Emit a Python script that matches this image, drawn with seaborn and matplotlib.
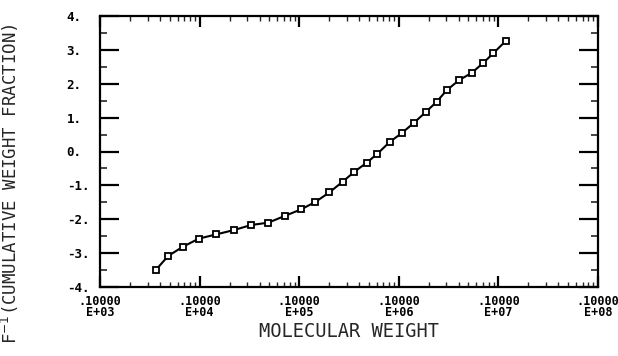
import matplotlib
matplotlib.use("Agg")
import matplotlib.pyplot as plt
import seaborn as sns
import numpy as np
import pandas as pd
from matplotlib.ticker import LogLocator, FixedLocator, NullFormatter

# data
mol_weight = [3622, 4853, 6808, 9863, 14555, 22030, 32960, 48980, 71940,
              104200, 145200, 200400, 273500, 357300, 476400, 608100, 816600,
              1069000, 1422000, 1875000, 2404000, 3027000, 4046000, 5395000,
              6950000, 8892000, 11910000]
f_inv = [-3.50, -3.08, -2.81, -2.57, -2.45, -2.32, -2.17, -2.10, -1.90,
         -1.71, -1.49, -1.21, -0.89, -0.60, -0.33, -0.07, 0.29,
         0.54, 0.85, 1.17, 1.47, 1.81, 2.11, 2.32,
         2.60, 2.90, 3.27]
x_ticks = [1e3, 1e4, 1e5, 1e6, 1e7, 1e8]
x_tick_labels = [".10000\nE+03", ".10000\nE+04", ".10000\nE+05",
                 ".10000\nE+06", ".10000\nE+07", ".10000\nE+08"]
y_ticks = [-4, -3, -2, -1, 0, 1, 2, 3, 4]
y_tick_labels = ["-4.", "-3.", "-2.", "-1.", "0.", "1.", "2.", "3.", "4."]

df = pd.DataFrame({"mw": mol_weight, "f": f_inv})

sns.set_style("white")
plt.rcParams['font.family'] = ['DejaVu Sans Mono']

fig = plt.figure(figsize=(6.18, 3.56), dpi=100)
ax = fig.add_axes([100/618, 1-287/356, 498/618, 271/356])

sns.lineplot(data=df, x="mw", y="f", ax=ax, color="black", linewidth=1.5,
             marker="s", markersize=4.5, markerfacecolor="white",
             markeredgecolor="black", markeredgewidth=1.3)

ax.set_xscale("log")
ax.set_xlim(1e3, 1e8)
ax.set_ylim(-4, 4)

ax.set_xticks(x_ticks)
ax.set_xticklabels(x_tick_labels, fontsize=8.5, fontweight="bold", linespacing=0.8)
ax.xaxis.set_minor_locator(LogLocator(base=10, subs=np.arange(2, 10), numticks=20))
ax.xaxis.set_minor_formatter(NullFormatter())

ax.set_yticks(y_ticks)
ax.set_yticklabels(y_tick_labels, fontsize=9, fontweight="bold")
ax.yaxis.set_minor_locator(FixedLocator(np.arange(-3.5, 4, 1.0)))

for s in ax.spines.values():
    s.set_color("black")
    s.set_linewidth(1.6)

ax.tick_params(axis="y", which="major", direction="in", length=14, width=1.6,
               left=True, right=True, pad=24, colors="black")
for lab in ax.get_yticklabels():
    lab.set_horizontalalignment("left")
ax.tick_params(axis="y", which="minor", direction="in", length=5, width=1.2,
               left=True, right=True)
ax.tick_params(axis="x", which="major", direction="in", length=8, width=1.6,
               bottom=True, top=True, pad=6, colors="black")
ax.tick_params(axis="x", which="minor", direction="in", length=3.5, width=1.0,
               bottom=True, top=True)

ax.set_xlabel("MOLECULAR WEIGHT", fontsize=13.5, labelpad=2)
ax.set_ylabel("F$^{-1}$(CUMULATIVE WEIGHT FRACTION)", fontsize=12.5)
ax.yaxis.set_label_coords(-0.158, 0.38)

fig.savefig("out.png", dpi=100)
